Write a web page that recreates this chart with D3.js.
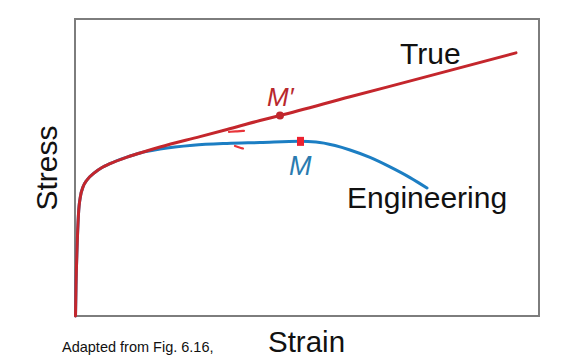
<!DOCTYPE html>
<html><head><meta charset="utf-8">
<script src="https://cdn.jsdelivr.net/npm/d3@7"></script>
<style>html,body{margin:0;padding:0;background:#fff;}svg{display:block;}</style>
</head><body>
<svg id="c" width="570" height="359"></svg>
<script>
// Data (arbitrary units: strain 0-100, stress 0-100)
const trueStrain = [0.11,0.22,0.43,0.75,1.19,1.72,2.59,4.09,5.82,7.54,11.21,15.09,18.32,26.94,32.76,39.87,44.18,59.27,74.35,95.04];
const trueStress = [0,10.4,22.2,34.3,40.4,43.4,45.8,48.1,50.0,51.3,53.5,55.4,56.9,60.4,62.8,65.8,67.5,73.8,80.0,88.6];
const engStrain = [0.11,0.22,0.43,0.75,1.19,1.72,2.59,4.09,5.82,7.54,11.21,14.01,18.32,25.43,32.76,39.87,48.49,51.94,56.03,59.27,63.58,67.89,72.20,75.86];
const engStress = [0,10.4,22.2,34.3,40.4,43.4,45.8,48.1,50.0,51.3,53.5,54.9,56.2,57.5,58.1,58.4,58.8,58.6,57.4,55.9,53.4,50.2,46.6,43.1];
const pointMprime = {strain:44.18, stress:67.5, label:"M\u2032"};
const pointM = {strain:48.49, stress:58.8, label:"M"};
const seriesNames = ["True","Engineering"];
const axisTitles = {x:"Strain", y:"Stress"};
const credit = "Adapted from Fig. 6.16,";
const arrowMarks = [[[33.19,62.0],[35.0,62.2],[36.42,62.35]],[[34.48,57.24],[35.5,56.7],[36.21,56.4]]];

const svg = d3.select("#c");
const x = d3.scaleLinear().domain([0,100]).range([75,539]);
const y = d3.scaleLinear().domain([0,100]).range([316,19]);
const font = "'Liberation Sans', Arial, Helvetica, sans-serif";
const red = "#c4262c", blue = "#1c7ec3";

svg.append("rect").attr("x",0).attr("y",0).attr("width",570).attr("height",359).attr("fill","#fff");

// frame
svg.append("rect")
  .attr("x", x.range()[0]).attr("y", y.range()[1])
  .attr("width", x.range()[1]-x.range()[0]).attr("height", y.range()[0]-y.range()[1])
  .attr("fill","none").attr("stroke","#7d7d7d").attr("stroke-width",2);

const line = d3.line().x(d=>x(d[0])).y(d=>y(d[1])).curve(d3.curveMonotoneX);
const engData = engStrain.map((s,i)=>[s,engStress[i]]);
const trueData = trueStrain.map((s,i)=>[s,trueStress[i]]);

svg.append("path").attr("d", line(engData)).attr("fill","none").attr("stroke",blue).attr("stroke-width",3).attr("stroke-linecap","round");
svg.append("path").attr("d", line(trueData)).attr("fill","none").attr("stroke",red).attr("stroke-width",3).attr("stroke-linecap","round");

// small red marks
const ml = d3.line().x(d=>x(d[0])).y(d=>y(d[1])).curve(d3.curveBasis);
arrowMarks.forEach(m=>{
  svg.append("path").attr("d", ml(m)).attr("fill","none").attr("stroke","#e8353a").attr("stroke-width",2.2).attr("stroke-linecap","round");
});

// points
svg.append("circle").attr("cx",x(pointMprime.strain)).attr("cy",y(pointMprime.stress)).attr("r",4).attr("fill","#c0272d");
svg.append("rect").attr("x",x(pointM.strain)-3).attr("y",y(pointM.stress)-4.5).attr("width",7).attr("height",9).attr("fill","#ec2230");

// labels
svg.append("text").attr("x",x(pointMprime.strain)-13).attr("y",y(pointMprime.stress)-10)
  .attr("font-family",font).attr("font-style","italic").attr("font-size",26).attr("fill","#b8282d").text(pointMprime.label);
svg.append("text").attr("x",x(pointM.strain)-11).attr("y",y(pointM.stress)+34)
  .attr("font-family",font).attr("font-style","italic").attr("font-size",27).attr("fill","#2a7bb0").text(pointM.label);

svg.append("text").attr("x",400).attr("y",64).attr("font-family",font).attr("font-size",30).attr("fill","#111").text(seriesNames[0]);
svg.append("text").attr("x",347).attr("y",208).attr("font-family",font).attr("font-size",30).attr("fill","#111").text(seriesNames[1]);

svg.append("text").attr("transform","translate(57,168) rotate(-90)").attr("text-anchor","middle")
  .attr("font-family",font).attr("font-size",30).attr("fill","#111").text(axisTitles.y);
svg.append("text").attr("x",268).attr("y",352).attr("font-family",font).attr("font-size",29.5).attr("fill","#111").text(axisTitles.x);
svg.append("text").attr("x",62).attr("y",352).attr("font-family",font).attr("font-size",14.5).attr("fill","#111").text(credit);
</script>
</body></html>
